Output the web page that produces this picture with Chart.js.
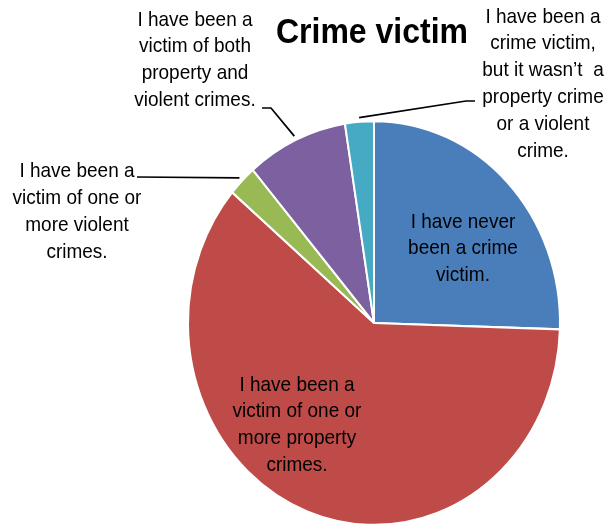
<!DOCTYPE html>
<html lang="en">
<head>
    <meta charset="UTF-8">
    <title>Crime victim</title>
    <script src="https://cdn.jsdelivr.net/npm/chart.js"></script>
    <style>
        body { margin: 0; background: #fff; }
        canvas { display: block; }
    </style>
</head>
<body>
    <canvas id="graph" width="609" height="531"></canvas>

    <script>
        // Chart data
        const categories = [
            ["I have never", "been a crime", "victim."],
            ["I have been a", "victim of one or", "more property", "crimes."],
            ["I have been a", "victim of one or", "more violent", "crimes."],
            ["I have been a", "victim of both", "property and", "violent crimes."],
            ["I have been a", "crime victim,", "but it wasn\u2019t  a", "property crime", "or a violent", "crime."]
        ];
        const shares = [25.5, 60.7, 2.5, 8.8, 2.5];
        const colors = ["#4A7EBB", "#BE4B48", "#98B954", "#7D60A0", "#46AAC5"];
        const chartTitle = "Crime victim";

        // the original picture is stretched a bit vertically
        const SY = 203 / 187;
        const FONT = "'Liberation Sans', Arial, sans-serif";
        const LINE = 26.8;

        // where each label sits (x centre, y of first line) and its leader line, if any
        const labelPlaces = [
            { x: 463, y: 222 },
            { x: 297, y: 385 },
            { x: 77, y: 171.5, lead: [[137, 177]] },
            { x: 195, y: 20, lead: [[262, 108], [271, 108]] },
            { x: 543, y: 17, lead: [[475, 101], [466, 101]] }
        ];

        function stretchedText(ctx, text, x, y) {
            ctx.save();
            ctx.translate(x, y);
            ctx.scale(1, SY);
            ctx.fillText(text, 0, 0);
            ctx.restore();
        }

        const stretchPlugin = {
            id: "stretch",
            beforeDatasetsDraw(chart) {
                const ctx = chart.ctx;
                const cy = chart.getDatasetMeta(0).data[0].y;
                ctx.save();
                ctx.translate(0, cy);
                ctx.scale(1, SY);
                ctx.translate(0, -cy);
            },
            afterDatasetsDraw(chart) {
                chart.ctx.restore();
            }
        };

        const labelPlugin = {
            id: "labels",
            afterDraw(chart) {
                const ctx = chart.ctx;
                const arcs = chart.getDatasetMeta(0).data;
                ctx.save();
                ctx.fillStyle = "#000";
                ctx.textAlign = "center";
                ctx.textBaseline = "middle";

                ctx.font = "bold 32px " + FONT;
                stretchedText(ctx, chartTitle, 372, 33);

                ctx.font = "19px " + FONT;
                ctx.strokeStyle = "#000";
                ctx.lineWidth = 1.7;
                arcs.forEach((arc, i) => {
                    const place = labelPlaces[i];
                    chart.data.labels[i].forEach((line, j) => {
                        stretchedText(ctx, line, place.x, place.y + j * LINE);
                    });
                    if (place.lead) {
                        const mid = (arc.startAngle + arc.endAngle) / 2;
                        const r = arc.outerRadius * 1.02;
                        const ex = arc.x + Math.cos(mid) * r;
                        const ey = arc.y + Math.sin(mid) * r * SY;
                        ctx.beginPath();
                        ctx.moveTo(place.lead[0][0], place.lead[0][1]);
                        place.lead.slice(1).forEach(p => ctx.lineTo(p[0], p[1]));
                        ctx.lineTo(ex, ey);
                        ctx.stroke();
                    }
                });
                ctx.restore();
            }
        };

        const ctx = document.getElementById("graph").getContext("2d");
        new Chart(ctx, {
            type: "pie",
            data: {
                labels: categories,
                datasets: [{
                    data: shares,
                    backgroundColor: colors,
                    borderColor: "#fff",
                    borderWidth: 2,
                    clip: false
                }]
            },
            options: {
                responsive: false,
                animation: false,
                layout: {
                    padding: { left: 187, right: 48, top: 136, bottom: 21 }
                },
                plugins: {
                    legend: { display: false },
                    tooltip: { enabled: false },
                    title: { display: false }
                }
            },
            plugins: [stretchPlugin, labelPlugin]
        });
    </script>
</body>
</html>
